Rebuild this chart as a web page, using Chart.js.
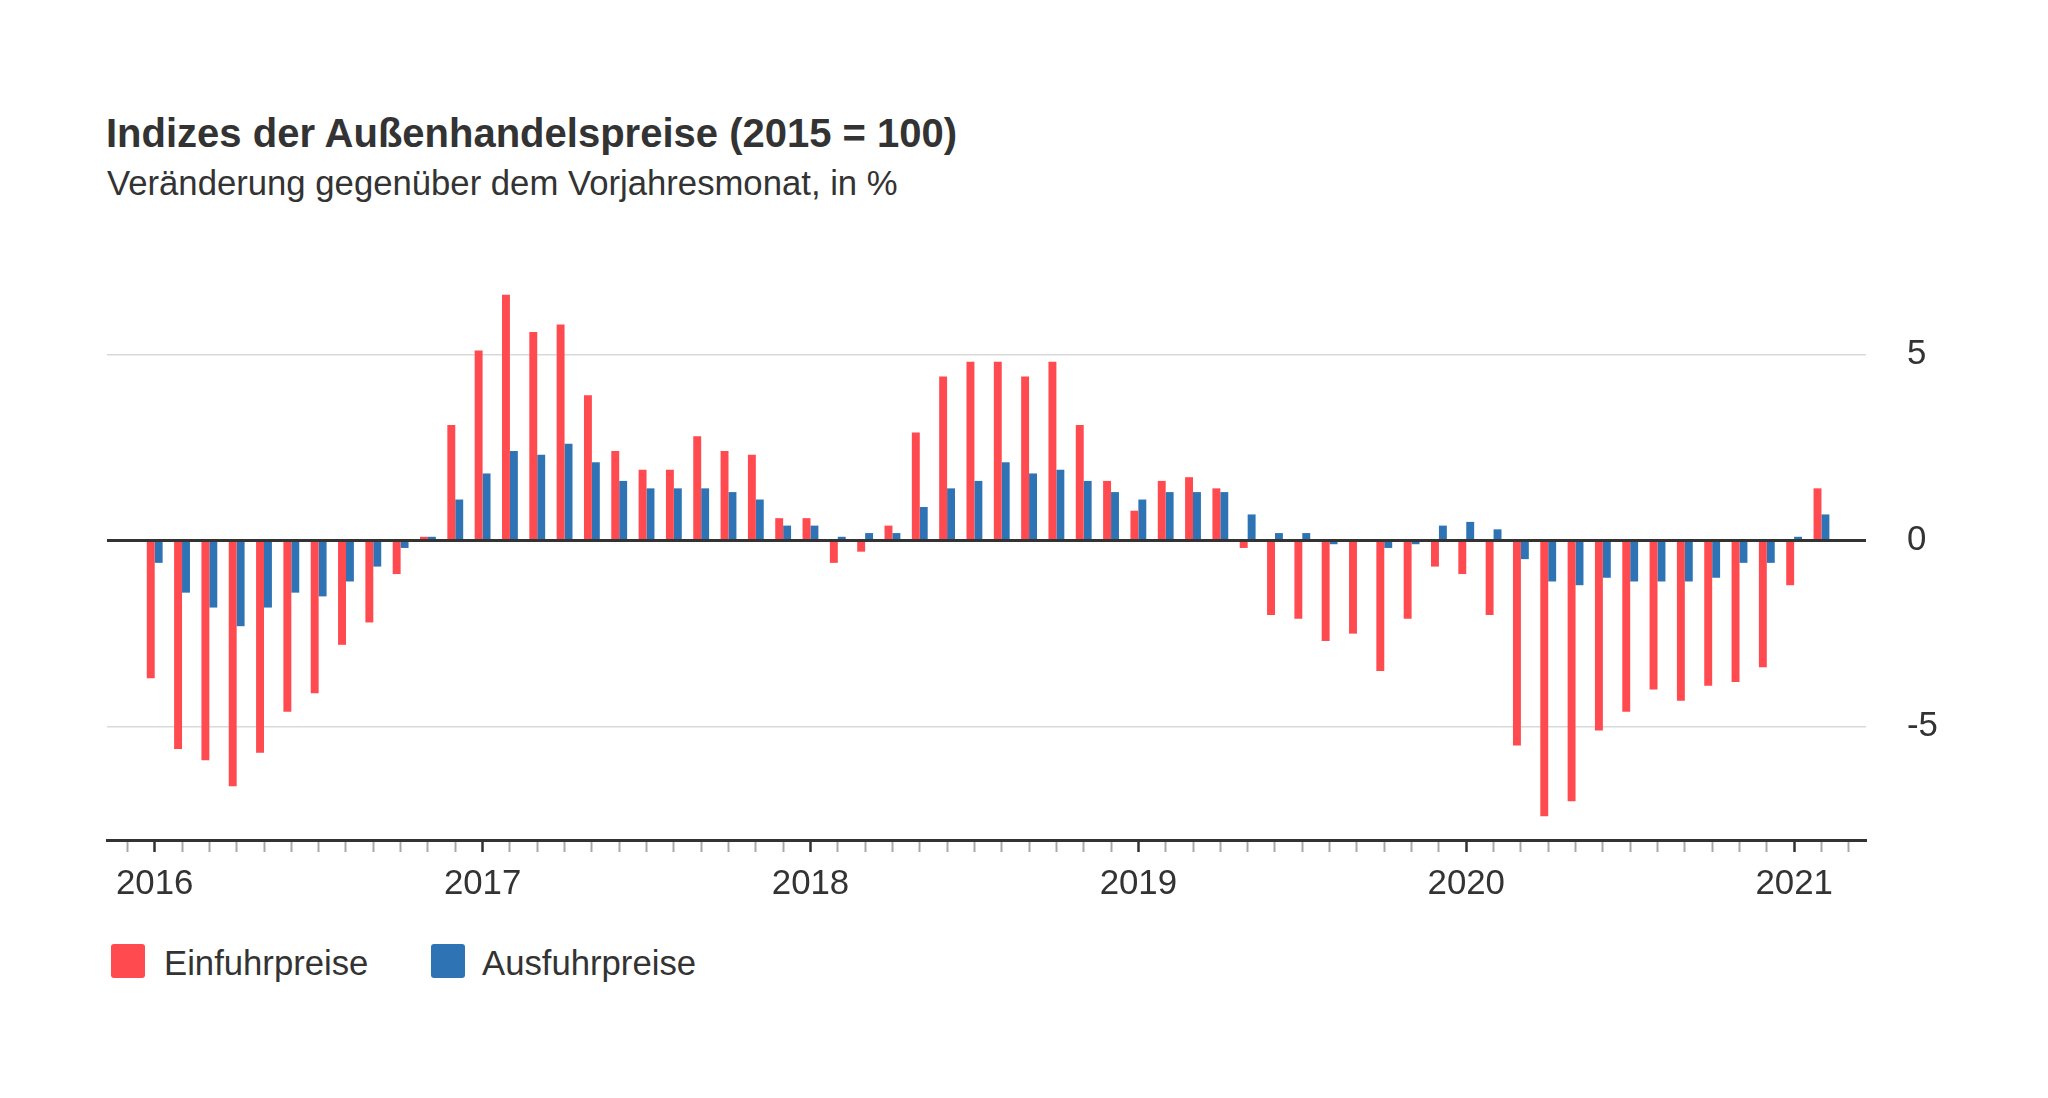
<!DOCTYPE html>
<html lang="de">
<head>
<meta charset="utf-8">
<title>Indizes der Außenhandelspreise</title>
<script src="https://cdn.jsdelivr.net/npm/chart.js@4.4.1/dist/chart.umd.min.js"></script>
<style>
    html, body { margin: 0; padding: 0; background: #fff; }
    body {
        width: 2048px; height: 1098px; position: relative; overflow: hidden;
        font-family: 'Liberation Sans', Arial, sans-serif; color: #333;
    }
    .title { position: absolute; left: 106px; top: 113px; font-size: 40px; font-weight: bold; line-height: 1; white-space: nowrap; }
    .subtitle { position: absolute; left: 107px; top: 166px; font-size: 34.7px; line-height: 1; white-space: nowrap; }
    #chartBox { position: absolute; left: 0; top: 200px; width: 2048px; height: 710px; }
    .legend-box { position: absolute; top: 944px; width: 34px; height: 34px; border-radius: 3px; }
    .legend-text { position: absolute; top: 946px; font-size: 34.7px; line-height: 1; white-space: nowrap; }
</style>
</head>
<body>
<div class="title">Indizes der Außenhandelspreise (2015 = 100)</div>
<div class="subtitle">Veränderung gegenüber dem Vorjahresmonat, in %</div>
<div id="chartBox"><canvas id="tradeChart"></canvas></div>

<div class="legend-box" style="left:111px; background:#ff4a50;"></div>
<div class="legend-text" style="left:164px;">Einfuhrpreise</div>
<div class="legend-box" style="left:431px; background:#2e74b5;"></div>
<div class="legend-text" style="left:482px;">Ausfuhrpreise</div>

<script>
// Monate Jan 2016 - Feb 2021
const months = [
    '2016-01', '2016-02', '2016-03', '2016-04', '2016-05', '2016-06', '2016-07', '2016-08', '2016-09', '2016-10', '2016-11', '2016-12',
    '2017-01', '2017-02', '2017-03', '2017-04', '2017-05', '2017-06', '2017-07', '2017-08', '2017-09', '2017-10', '2017-11', '2017-12',
    '2018-01', '2018-02', '2018-03', '2018-04', '2018-05', '2018-06', '2018-07', '2018-08', '2018-09', '2018-10', '2018-11', '2018-12',
    '2019-01', '2019-02', '2019-03', '2019-04', '2019-05', '2019-06', '2019-07', '2019-08', '2019-09', '2019-10', '2019-11', '2019-12',
    '2020-01', '2020-02', '2020-03', '2020-04', '2020-05', '2020-06', '2020-07', '2020-08', '2020-09', '2020-10', '2020-11', '2020-12',
    '2021-01', '2021-02'
];

const einfuhrpreise = [
    -3.7, -5.6, -5.9, -6.6, -5.7, -4.6, -4.1, -2.8, -2.2, -0.9, 0.1, 3.1,
    5.1, 6.6, 5.6, 5.8, 3.9, 2.4, 1.9, 1.9, 2.8, 2.4, 2.3, 0.6,
    0.6, -0.6, -0.3, 0.4, 2.9, 4.4, 4.8, 4.8, 4.4, 4.8, 3.1, 1.6,
    0.8, 1.6, 1.7, 1.4, -0.2, -2.0, -2.1, -2.7, -2.5, -3.5, -2.1, -0.7,
    -0.9, -2.0, -5.5, -7.4, -7.0, -5.1, -4.6, -4.0, -4.3, -3.9, -3.8, -3.4,
    -1.2, 1.4
];

const ausfuhrpreise = [
    -0.6, -1.4, -1.8, -2.3, -1.8, -1.4, -1.5, -1.1, -0.7, -0.2, 0.1, 1.1,
    1.8, 2.4, 2.3, 2.6, 2.1, 1.6, 1.4, 1.4, 1.4, 1.3, 1.1, 0.4,
    0.4, 0.1, 0.2, 0.2, 0.9, 1.4, 1.6, 2.1, 1.8, 1.9, 1.6, 1.3,
    1.1, 1.3, 1.3, 1.3, 0.7, 0.2, 0.2, -0.1, 0.0, -0.2, -0.1, 0.4,
    0.5, 0.3, -0.5, -1.1, -1.2, -1.0, -1.1, -1.1, -1.1, -1.0, -0.6, -0.6,
    0.1, 0.7
];

// Monats-Striche auf der x-Achse (ein Monat vor und nach den Daten)
const tickMonths = ['2015-12', ...months, '2021-03'];
const yTicks = [-5, 0, 5];

const RED = '#ff4a50';
const BLUE = '#2e74b5';
const TEXT = '#333333';

Chart.defaults.font.family = "'Liberation Sans', Arial, sans-serif";
Chart.defaults.font.size = 34.8;
Chart.defaults.color = TEXT;

const monthOf = (value) => tickMonths[Math.round(value) + 1] || '';
const isJanuary = (value) => monthOf(value).endsWith('-01');

new Chart(document.getElementById('tradeChart'), {
    type: 'bar',
    data: {
        datasets: [
            {
                label: 'Einfuhrpreise',
                data: einfuhrpreise.map((v, i) => ({ x: i, y: v })),
                backgroundColor: RED,
                borderWidth: 0
            },
            {
                label: 'Ausfuhrpreise',
                data: ausfuhrpreise.map((v, i) => ({ x: i, y: v })),
                backgroundColor: BLUE,
                borderWidth: 0
            }
        ]
    },
    options: {
        responsive: true,
        maintainAspectRatio: false,
        animation: false,
        categoryPercentage: 0.58,
        barPercentage: 1.0,
        layout: { padding: { left: 107, top: 60, right: 0, bottom: 0 } },
        plugins: {
            legend: { display: false }, // Legende steht im HTML
            tooltip: {
                callbacks: {
                    title: (items) => months[items[0].parsed.x],
                    label: (c) => c.dataset.label + ': ' + c.parsed.y + ' %'
                }
            }
        },
        scales: {
            x: {
                type: 'linear',
                min: -1.746,
                max: 62.63,
                offset: false,
                afterBuildTicks: (scale) => {
                    scale.ticks = tickMonths.map((m, i) => ({ value: i - 1 }));
                },
                afterFit: (scale) => { scale.height = 70; },
                grid: {
                    offset: false,
                    drawOnChartArea: false,
                    drawTicks: true,
                    tickLength: 12,
                    tickColor: (ctx) => isJanuary(ctx.tick.value) ? TEXT : '#a8a8a8',
                    tickWidth: (ctx) => isJanuary(ctx.tick.value) ? 2.5 : 2
                },
                border: { display: true, color: TEXT, width: 3 },
                ticks: {
                    autoSkip: false,
                    maxRotation: 0,
                    padding: 12,
                    color: TEXT,
                    callback: (value) => isJanuary(value) ? monthOf(value).slice(0, 4) : ''
                }
            },
            y: {
                position: 'right',
                min: -8.04,
                max: 7.48,
                afterBuildTicks: (scale) => {
                    scale.ticks = yTicks.map(v => ({ value: v }));
                },
                afterFit: (scale) => { scale.width = 182; },
                grid: {
                    drawTicks: false,
                    color: (ctx) => ctx.tick.value === 0 ? TEXT : '#d9d9d9',
                    lineWidth: (ctx) => ctx.tick.value === 0 ? 3 : 1.5
                },
                border: { display: false },
                ticks: {
                    padding: 41,
                    color: TEXT
                }
            }
        }
    }
});
</script>
</body>
</html>
